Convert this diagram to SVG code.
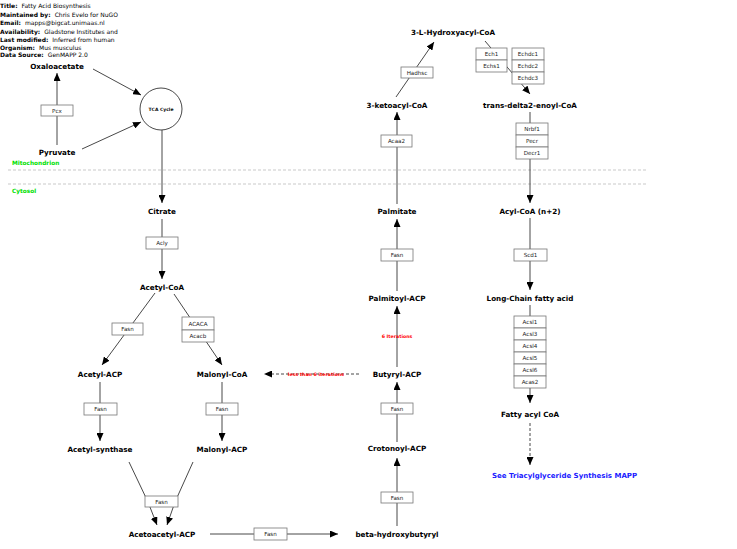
<svg xmlns="http://www.w3.org/2000/svg" width="737" height="549" viewBox="0 0 737 549">
<style>
.lbl{font-family:"DejaVu Sans",sans-serif;font-weight:bold;font-size:7.2px;fill:#000;text-anchor:middle}
.hdr{font-family:"DejaVu Sans",sans-serif;font-size:6px;fill:#000}
.hdr .k{font-weight:bold}
.box rect{fill:#fff;stroke:#777;stroke-width:0.8}
.box text{font-family:"DejaVu Sans",sans-serif;font-size:5.6px;fill:#222;text-anchor:middle}
.ln{stroke:#333;stroke-width:0.9;fill:none}
.arr{marker-end:url(#ah)}
.dash{stroke-dasharray:3,2}
.sep{stroke:#bbb;stroke-width:0.8;stroke-dasharray:3,2}
.grn{font-family:"DejaVu Sans",sans-serif;font-weight:bold;font-size:5.8px;fill:#00e000}
.red{font-family:"DejaVu Sans",sans-serif;font-weight:bold;font-size:4.7px;fill:#ff0000;text-anchor:middle}
</style>
<defs>
<marker id="ah" markerUnits="userSpaceOnUse" markerWidth="8" markerHeight="7" refX="8" refY="3.5" orient="auto">
<path d="M0,0 L8,3.5 L0,7 z" fill="#000"/>
</marker>
</defs>
<rect width="737" height="549" fill="#fff"/>
<g id="header" class="hdr">
<text x="0" y="8"><tspan class="k">Title:</tspan><tspan dx="4">Fatty Acid Biosynthesis</tspan></text>
<text x="0" y="16.5"><tspan class="k">Maintained by:</tspan><tspan dx="4">Chris Evelo for NuGO</tspan></text>
<text x="0" y="25"><tspan class="k">Email:</tspan><tspan dx="4">mapps@bigcat.unimaas.nl</tspan></text>
<text x="0" y="33.5"><tspan class="k">Availability:</tspan><tspan dx="4">Gladstone Institutes and</tspan></text>
<text x="0" y="41.5"><tspan class="k">Last modified:</tspan><tspan dx="4">Inferred from human</tspan></text>
<text x="0" y="49.5"><tspan class="k">Organism:</tspan><tspan dx="4">Mus musculus</tspan></text>
<text x="0" y="57"><tspan class="k">Data Source:</tspan><tspan dx="4">GenMAPP 2.0</tspan></text>
</g>
<g id="compartments">
<line class="sep" x1="8" y1="170" x2="648" y2="170"/>
<line class="sep" x1="8" y1="184" x2="648" y2="184"/>
<text class="grn" x="12" y="165">Mitochondrion</text>
<text class="grn" x="12" y="193">Cytosol</text>
</g>
<g id="connectors">
<line class="ln arr" x1="57" y1="145" x2="57" y2="73"/>
<line class="ln arr" x1="93" y1="69" x2="141" y2="95"/>
<line class="ln arr" x1="82" y1="149" x2="141" y2="122"/>
<line class="ln arr" x1="162" y1="130" x2="162" y2="203"/>
<line class="ln arr" x1="162" y1="219" x2="162" y2="279"/>
<line class="ln arr" x1="155" y1="293" x2="102" y2="365"/>
<line class="ln arr" x1="174" y1="294" x2="222" y2="365"/>
<line class="ln arr" x1="100" y1="382" x2="100" y2="441"/>
<line class="ln arr" x1="222" y1="382" x2="222" y2="441"/>
<polyline class="ln arr" points="129,462 148,502 157,525"/>
<polyline class="ln arr" points="193,462 175,502 167,525"/>
<line class="ln arr" x1="210" y1="534" x2="338" y2="534"/>
<line class="ln arr" x1="397" y1="526" x2="397" y2="458"/>
<line class="ln arr" x1="397" y1="442" x2="397" y2="382"/>
<line class="ln arr" x1="397" y1="367" x2="397" y2="306"/>
<line class="ln arr dash" x1="359" y1="374" x2="264" y2="374"/>
<line class="ln arr" x1="397" y1="291" x2="397" y2="219"/>
<line class="ln arr" x1="397" y1="204" x2="397" y2="112"/>
<line class="ln arr" x1="396" y1="97" x2="434" y2="42"/>
<line class="ln arr" x1="485" y1="41" x2="530" y2="94"/>
<line class="ln arr" x1="530" y1="112" x2="530" y2="203"/>
<line class="ln arr" x1="530" y1="218" x2="530" y2="290"/>
<line class="ln arr" x1="530" y1="305" x2="530" y2="403"/>
<line class="ln arr dash" x1="530" y1="423" x2="530" y2="465"/>
<text class="red" x="397" y="337.6">6 Iterations</text>
<text class="red" x="316" y="375.6">less than 6 iterations</text>
</g>
<g id="tca"><circle cx="161" cy="109" r="21" fill="#fff" stroke="#333" stroke-width="0.9"/><text x="161" y="110.6" font-family="DejaVu Sans,sans-serif" font-weight="bold" font-size="4.5" text-anchor="middle">TCA Cycle</text></g>
<g id="n-oxaloacetate"><text class="lbl" x="57" y="69">Oxaloacetate</text></g>
<g id="n-pyruvate"><text class="lbl" x="57" y="154.5">Pyruvate</text></g>
<g id="n-citrate"><text class="lbl" x="162" y="213.6">Citrate</text></g>
<g id="n-acetylcoa"><text class="lbl" x="162" y="289.6">Acetyl-CoA</text></g>
<g id="n-acetylacp"><text class="lbl" x="100" y="376.6">Acetyl-ACP</text></g>
<g id="n-malonylcoa"><text class="lbl" x="222" y="376.6">Malonyl-CoA</text></g>
<g id="n-acetylsynthase"><text class="lbl" x="100" y="451.6">Acetyl-synthase</text></g>
<g id="n-malonylacp"><text class="lbl" x="222" y="451.6">Malonyl-ACP</text></g>
<g id="n-acetoacetylacp"><text class="lbl" x="162" y="536.6">Acetoacetyl-ACP</text></g>
<g id="n-betahydroxybutyryl"><text class="lbl" x="397" y="536.6">beta-hydroxybutyryl</text></g>
<g id="n-crotonoylacp"><text class="lbl" x="397" y="451">Crotonoyl-ACP</text></g>
<g id="n-butyrylacp"><text class="lbl" x="397" y="377">Butyryl-ACP</text></g>
<g id="n-palmitoylacp"><text class="lbl" x="397" y="300.6">Palmitoyl-ACP</text></g>
<g id="n-palmitate"><text class="lbl" x="397" y="213.6">Palmitate</text></g>
<g id="n-3ketoacylcoa"><text class="lbl" x="397" y="107.6">3-ketoacyl-CoA</text></g>
<g id="n-3lhydroxyacylcoa"><text class="lbl" x="453" y="35">3-L-Hydroxyacyl-CoA</text></g>
<g id="n-transenoylcoa"><text class="lbl" x="530" y="107.6">trans-delta2-enoyl-CoA</text></g>
<g id="n-acylcoan2"><text class="lbl" x="530" y="213.6">Acyl-CoA (n+2)</text></g>
<g id="n-longchain"><text class="lbl" x="530" y="300.6">Long-Chain fatty acid</text></g>
<g id="n-fattyacylcoa"><text class="lbl" x="530" y="416.6">Fatty acyl CoA</text></g>
<g id="n-seetag"><text x="492" y="477.5" font-family="DejaVu Sans,sans-serif" font-weight="bold" font-size="7" fill="#1a1aff">See Triacylglyceride Synthesis MAPP</text></g>
<g id="g-pcx" class="box"><rect x="41" y="105" width="32" height="11"/><text x="57" y="112.5">Pcx</text></g>
<g id="g-acly" class="box"><rect x="146" y="237" width="32" height="12"/><text x="162" y="245">Acly</text></g>
<g id="g-fasn1" class="box"><rect x="112" y="323" width="31" height="12"/><text x="127.5" y="331">Fasn</text></g>
<g id="g-acaca" class="box"><rect x="182" y="317" width="32" height="13"/><text x="198" y="325.5">ACACA</text><rect x="182" y="330" width="32" height="12"/><text x="198" y="338">Acacb</text></g>
<g id="g-fasn2" class="box"><rect x="84" y="403" width="33" height="12"/><text x="100.5" y="411">Fasn</text></g>
<g id="g-fasn3" class="box"><rect x="206" y="403" width="32" height="12"/><text x="222" y="411">Fasn</text></g>
<g id="g-fasn4" class="box"><rect x="145" y="496" width="33" height="11"/><text x="161.5" y="503.5">Fasn</text></g>
<g id="g-fasn5" class="box"><rect x="254" y="528" width="33" height="12"/><text x="270.5" y="536">Fasn</text></g>
<g id="g-fasn6" class="box"><rect x="381" y="492" width="32" height="11"/><text x="397" y="499.5">Fasn</text></g>
<g id="g-fasn7" class="box"><rect x="381" y="403" width="32" height="11"/><text x="397" y="410.5">Fasn</text></g>
<g id="g-fasn8" class="box"><rect x="381" y="249" width="32" height="12"/><text x="397" y="257">Fasn</text></g>
<g id="g-acaa2" class="box"><rect x="381" y="135" width="31" height="12"/><text x="396.5" y="143">Acaa2</text></g>
<g id="g-hadhsc" class="box"><rect x="401" y="67" width="32" height="11"/><text x="417" y="74.5">Hadhsc</text></g>
<g id="g-ech" class="box"><rect x="476" y="48" width="31" height="12"/><text x="491.5" y="56">Ech1</text><rect x="476" y="60" width="31" height="12"/><text x="491.5" y="68">Echs1</text></g>
<g id="g-echdc" class="box"><rect x="512" y="48" width="32" height="12"/><text x="528" y="56">Echdc1</text><rect x="512" y="60" width="32" height="12"/><text x="528" y="68">Echdc2</text><rect x="512" y="72" width="32" height="12"/><text x="528" y="80">Echdc3</text></g>
<g id="g-nrbf1" class="box"><rect x="516" y="123" width="32" height="12"/><text x="532" y="131">Nrbf1</text><rect x="516" y="135" width="32" height="12"/><text x="532" y="143">Pecr</text><rect x="516" y="147" width="32" height="12"/><text x="532" y="155">Decr1</text></g>
<g id="g-scd1" class="box"><rect x="514" y="249" width="33" height="12"/><text x="530.5" y="257">Scd1</text></g>
<g id="g-acsl" class="box">
<rect x="514" y="316" width="32" height="12"/><text x="530" y="324">Acsl1</text>
<rect x="514" y="328" width="32" height="12"/><text x="530" y="336">Acsl3</text>
<rect x="514" y="340" width="32" height="12"/><text x="530" y="348">Acsl4</text>
<rect x="514" y="352" width="32" height="12"/><text x="530" y="360">Acsl5</text>
<rect x="514" y="364" width="32" height="12"/><text x="530" y="372">Acsl6</text>
<rect x="514" y="376" width="32" height="12"/><text x="530" y="384">Acas2</text>
</g>
</svg>
